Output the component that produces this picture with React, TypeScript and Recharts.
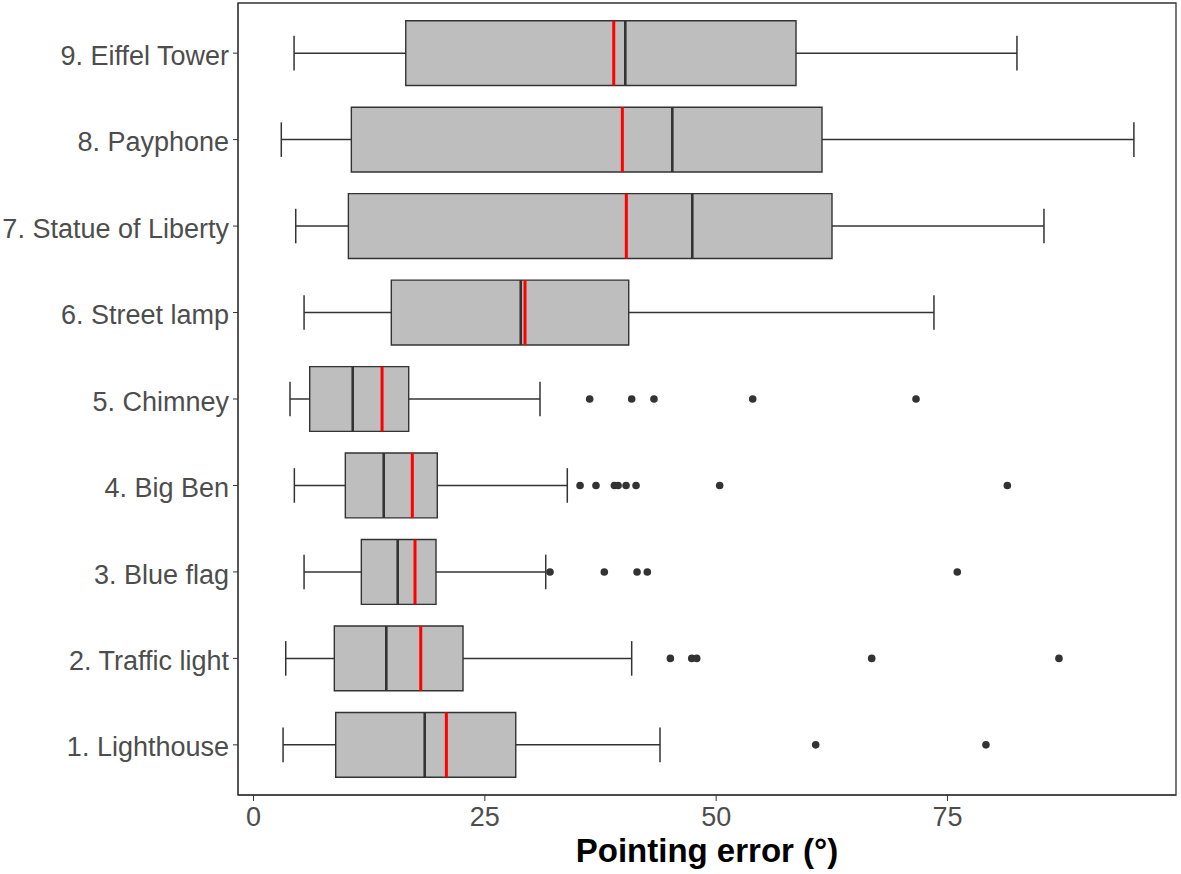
import React from "react";
import {
  ComposedChart, XAxis, YAxis, Scatter,
  ReferenceArea, ReferenceLine,
} from "recharts";

// categories, bottom (1) to top (9)
const names = [
  "1. Lighthouse", "2. Traffic light", "3. Blue flag", "4. Big Ben", "5. Chimney",
  "6. Street lamp", "7. Statue of Liberty", "8. Payphone", "9. Eiffel Tower",
];

// box plot stats (pointing error, degrees)
const whiskerLow = [3.19, 3.48, 5.46, 4.41, 3.94, 5.46, 4.56, 3.0, 4.38];
const q1 = [8.88, 8.73, 11.65, 9.92, 6.07, 14.89, 10.25, 10.57, 16.45];
const median = [18.5, 14.35, 15.58, 14.07, 10.72, 28.88, 47.42, 45.26, 40.18];
const mean = [20.84, 18.07, 17.45, 17.16, 13.89, 29.34, 40.29, 39.86, 38.93];
const q3 = [28.34, 22.64, 19.72, 19.86, 16.77, 40.55, 62.52, 61.44, 58.63];
const whiskerHigh = [43.93, 40.87, 31.58, 33.91, 30.96, 73.54, 85.43, 95.15, 82.51];

// outliers per category (same order as names)
const outliers = [
  [60.76, 79.16],
  [45.05, 47.36, 47.9, 66.81, 87.05],
  [32.04, 37.91, 41.45, 42.56, 76.06],
  [35.29, 37.01, 39.0, 39.4, 40.26, 41.34, 50.38, 81.47],
  [36.33, 40.87, 43.28, 53.95, 71.6],
  [], [], [], [],
];

const xTicks = [0, 25, 50, 75];

const X_MIN = -1.68;
const X_MAX = 99.7;
const Y_MIN = 0.42;
const Y_MAX = 9.58;
const BOX_HALF = 0.375;
const CAP_HALF = 0.2;

const INK = "#333333";
const FONT = "'Liberation Sans', Arial, sans-serif";

const outlierData = outliers.flatMap((vals, i) => vals.map((v) => ({ v, cat: i + 1 })));

export default function App() {
  return (
    <div style={{ fontFamily: FONT }}>
      <style>{"body{margin:0}"}</style>
      <ComposedChart
        width={1181}
        height={874}
        layout="vertical"
        margin={{ top: 3, right: 5, bottom: 0, left: 0 }}
      >
        <XAxis
          type="number"
          dataKey="v"
          domain={[X_MIN, X_MAX]}
          ticks={xTicks}
          allowDataOverflow
          height={79}
          stroke={INK}
          tickSize={6}
          tickMargin={6}
          tick={{ fill: "#4d4d4d", fontSize: 27, fontFamily: FONT }}
          label={{
            value: "Pointing error (°)",
            position: "insideBottom",
            offset: 12,
            style: { fill: "#000", fontSize: 33, fontWeight: "bold", fontFamily: FONT },
          }}
        />
        <YAxis
          type="number"
          dataKey="cat"
          domain={[Y_MIN, Y_MAX]}
          ticks={[1, 2, 3, 4, 5, 6, 7, 8, 9]}
          allowDataOverflow
          reversed
          width={238}
          stroke={INK}
          tickSize={5}
          tickMargin={4}
          tickFormatter={(i: number) => names[i - 1]}
          tick={{ fill: "#4d4d4d", fontSize: 27, fontFamily: FONT, dy: 2 }}
        />

        {/* panel frame */}
        <ReferenceArea
          x1={X_MIN}
          x2={X_MAX}
          y1={Y_MIN}
          y2={Y_MAX}
          fill="none"
          stroke={INK}
          strokeWidth={1.3}
        />

        {/* whiskers */}
        {names.map((_, i) => (
          <ReferenceLine
            key={`wl${i}`}
            segment={[{ x: whiskerLow[i], y: i + 1 }, { x: q1[i], y: i + 1 }]}
            stroke={INK}
            strokeWidth={1.5}
          />
        ))}
        {names.map((_, i) => (
          <ReferenceLine
            key={`wh${i}`}
            segment={[{ x: q3[i], y: i + 1 }, { x: whiskerHigh[i], y: i + 1 }]}
            stroke={INK}
            strokeWidth={1.5}
          />
        ))}
        {names.map((_, i) => (
          <ReferenceLine
            key={`cl${i}`}
            segment={[{ x: whiskerLow[i], y: i + 1 - CAP_HALF }, { x: whiskerLow[i], y: i + 1 + CAP_HALF }]}
            stroke={INK}
            strokeWidth={1.5}
          />
        ))}
        {names.map((_, i) => (
          <ReferenceLine
            key={`ch${i}`}
            segment={[{ x: whiskerHigh[i], y: i + 1 - CAP_HALF }, { x: whiskerHigh[i], y: i + 1 + CAP_HALF }]}
            stroke={INK}
            strokeWidth={1.5}
          />
        ))}

        {/* boxes */}
        {names.map((_, i) => (
          <ReferenceArea
            key={`box${i}`}
            x1={q1[i]}
            x2={q3[i]}
            y1={i + 1 - BOX_HALF}
            y2={i + 1 + BOX_HALF}
            fill="#bebebe"
            fillOpacity={1}
            stroke={INK}
            strokeWidth={1.4}
          />
        ))}

        {/* median (black) then mean (red) */}
        {names.map((_, i) => (
          <ReferenceLine
            key={`med${i}`}
            segment={[{ x: median[i], y: i + 1 - BOX_HALF }, { x: median[i], y: i + 1 + BOX_HALF }]}
            stroke={INK}
            strokeWidth={2.6}
          />
        ))}
        {names.map((_, i) => (
          <ReferenceLine
            key={`mean${i}`}
            segment={[{ x: mean[i], y: i + 1 - BOX_HALF }, { x: mean[i], y: i + 1 + BOX_HALF }]}
            stroke="#ff0000"
            strokeWidth={3}
          />
        ))}

        <Scatter
          data={outlierData}
          dataKey="v"
          isAnimationActive={false}
          shape={(p: any) => <circle cx={p.cx} cy={p.cy} r={3.8} fill={INK} />}
        />
      </ComposedChart>
    </div>
  );
}
